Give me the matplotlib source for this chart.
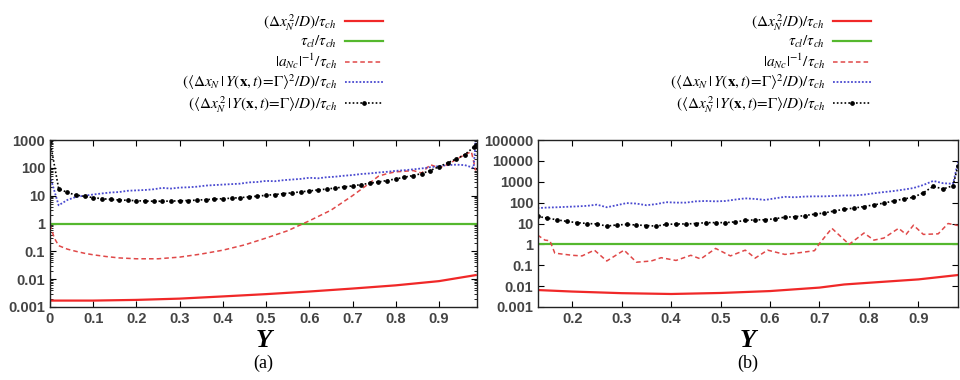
import numpy as np
import matplotlib
matplotlib.use("Agg")
import matplotlib.pyplot as plt

plt.rcParams['mathtext.fontset'] = 'stix'
plt.rcParams['font.family'] = ['Liberation Serif', 'DejaVu Serif']

#%% data, panel (a)
xa = [0.0, 0.02, 0.04, 0.06, 0.08, 0.10, 0.12, 0.14, 0.16, 0.18,
      0.20, 0.22, 0.24, 0.26, 0.28, 0.30, 0.32, 0.34, 0.36, 0.38,
      0.40, 0.42, 0.44, 0.46, 0.48, 0.50, 0.52, 0.54, 0.56, 0.58,
      0.60, 0.62, 0.64, 0.66, 0.68, 0.70, 0.72, 0.74, 0.76, 0.78,
      0.80, 0.82, 0.84, 0.86, 0.88, 0.90, 0.92, 0.94, 0.96, 0.98, 0.985]
black_a = [900, 18, 13, 10.5, 9.5, 8.5, 7.8, 7.3, 7.0, 6.8,
           6.6, 6.4, 6.3, 6.3, 6.4, 6.5, 6.7, 6.9, 7.2, 7.5,
           7.8, 8.1, 8.5, 9.0, 9.6, 10.3, 11.0, 11.8, 12.7, 13.7,
           14.8, 16.0, 17.3, 18.8, 20.5, 22.5, 25, 28, 31, 35,
           40, 46, 53, 62, 80, 110, 150, 210, 300, 550, 650]
blue_a = [50, 4.5, 7, 9, 10, 11, 12, 13, 13.5, 15,
          15.5, 16, 17, 19, 18, 19.5, 20, 21, 23, 24,
          25, 26, 27, 30, 31, 34, 33, 36, 38, 40,
          44, 42, 46, 48, 52, 55, 60, 63, 68, 72,
          78, 82, 88, 95, 105, 115, 125, 130, 125, 100, 900]
xa_rd = [0, 0.01, 0.02, 0.04, 0.06, 0.08, 0.1, 0.13, 0.16, 0.2, 0.25, 0.3,
         0.35, 0.4, 0.45, 0.5, 0.55, 0.6, 0.65, 0.7, 0.73, 0.76, 0.78, 0.8,
         0.82, 0.84, 0.86, 0.88, 0.9, 0.92, 0.94, 0.96, 0.975, 0.985]
reddash_a = [0.9, 0.3, 0.16, 0.12, 0.1, 0.085, 0.075, 0.065, 0.058, 0.054,
             0.054, 0.062, 0.08, 0.11, 0.17, 0.3, 0.55, 1.25, 3, 10, 22, 50,
             62, 72, 75, 80, 65, 130, 100, 130, 200, 300, 380, 80]
xa_rs = [0, 0.1, 0.2, 0.3, 0.4, 0.5, 0.6, 0.7, 0.8, 0.9, 0.985]
red_a = [0.0017, 0.0017, 0.0018, 0.002, 0.0024, 0.0029, 0.0036, 0.0046,
         0.006, 0.0085, 0.014]

#%% panel (b)
xb = [0.13, 0.15, 0.17, 0.19, 0.21, 0.23, 0.25, 0.27, 0.29, 0.31,
      0.33, 0.35, 0.37, 0.39, 0.41, 0.43, 0.45, 0.47, 0.49, 0.51,
      0.53, 0.55, 0.57, 0.59, 0.61, 0.63, 0.65, 0.67, 0.69, 0.71,
      0.73, 0.75, 0.77, 0.79, 0.81, 0.83, 0.85, 0.87, 0.89, 0.91,
      0.93, 0.95, 0.97, 0.98]
black_b = [22, 18, 15, 12.5, 11, 10, 9.5, 7.5, 8.5, 9,
           8.5, 8, 7.5, 9, 9.5, 9.5, 10, 11, 11, 11,
           12, 14, 15, 15, 17, 20, 21, 24, 28, 32,
           40, 48, 55, 65, 78, 95, 120, 150, 180, 300,
           600, 450, 650, 6000]
blue_b = [55, 58, 60, 63, 66, 70, 80, 60, 75, 95,
          90, 75, 85, 105, 100, 100, 115, 120, 115, 120,
          140, 160, 150, 135, 160, 190, 180, 195, 200, 200,
          210, 220, 220, 240, 280, 320, 360, 420, 500, 700,
          1100, 850, 800, 9000]
xb_rd = [0.13, 0.145, 0.155, 0.165, 0.2, 0.22, 0.245, 0.27, 0.305, 0.33,
         0.36, 0.38, 0.41, 0.44, 0.46, 0.49, 0.52, 0.55, 0.57, 0.595, 0.63,
         0.66, 0.69, 0.70, 0.725, 0.76, 0.79, 0.81, 0.83, 0.86, 0.875, 0.89,
         0.91, 0.94, 0.96, 0.98]
reddash_b = [2.8, 1.6, 1.5, 0.38, 0.3, 0.28, 0.53, 0.16, 0.53, 0.14,
             0.16, 0.23, 0.17, 0.3, 0.2, 0.64, 0.28, 0.53, 0.22, 0.53, 0.33,
             0.4, 0.5, 1.1, 5.9, 1.0, 3.5, 1.6, 2.0, 5.9, 3.0, 8.3,
             3.0, 3.2, 10, 8]
xb_rs = [0.13, 0.2, 0.3, 0.4, 0.5, 0.6, 0.7, 0.75, 0.8, 0.9, 0.98]
red_b = [0.0065, 0.0055, 0.0046, 0.0042, 0.0047, 0.0058, 0.0085, 0.012,
         0.0145, 0.021, 0.034]

labels = [r'$(\Delta x_N^{\,2}/D)/\tau_{ch}$',
          r'$\tau_{cl}/\tau_{ch}$',
          r'$|a_{Nc}|^{-1}/\tau_{ch}$',
          r'$(\langle\Delta x_N \,|\, Y(\mathbf{x},t)\!=\!\Gamma\rangle^2/D)/\tau_{ch}$',
          r'$(\langle\Delta x_N^{\,2} \,|\, Y(\mathbf{x},t)\!=\!\Gamma\rangle/D)/\tau_{ch}$']

#%% plotting
fig = plt.figure(figsize=(9.6, 3.8), dpi=100)
ax1 = fig.add_axes([50/960, 73/380, 427/960, 167/380])
ax2 = fig.add_axes([538/960, 73/380, 420/960, 167/380])

def draw(ax, xs, red, xd, rd, xg, blue, black):
    ax.plot(xs, red, color='#f02828', lw=1.6, label=labels[0])
    ax.plot([xg[0], xg[-1]], [1, 1], color='#55b82e', lw=1.6, label=labels[1])
    ax.plot(xd, rd, color='#e04848', lw=1.1, ls=(0, (3, 2)), label=labels[2])
    ax.plot(xg, blue, color='#4a4ad0', lw=1.3, ls=(0, (1, 1)), label=labels[3])
    ax.plot(xg, black, color='black', lw=1.2, ls=(0, (1, 1.3)), marker='o',
            ms=2.4, label=labels[4])
    ax.set_yscale('log')
    ax.tick_params(which='both', direction='in', top=True, right=True,
                   labelsize=10.5, labelcolor='#444444')
    ax.tick_params(which='major', length=4)
    ax.tick_params(which='minor', length=2)
    for s in ax.spines.values():
        s.set_linewidth(1.0)
        s.set_color('#222222')

draw(ax1, xa_rs, red_a, xa_rd, reddash_a, xa, blue_a, black_a)
draw(ax2, xb_rs, red_b, xb_rd, reddash_b, xb, blue_b, black_b)

ax1.set_xlim(0, 0.988)
ax1.set_ylim(0.001, 1000)
ax1.set_xticks([0, 0.1, 0.2, 0.3, 0.4, 0.5, 0.6, 0.7, 0.8, 0.9])
ax1.set_xticklabels(['0', '0.1', '0.2', '0.3', '0.4', '0.5', '0.6', '0.7', '0.8', '0.9'])
ax1.set_yticks([0.001, 0.01, 0.1, 1, 10, 100, 1000])
ax1.set_yticklabels(['0.001', '0.01', '0.1', '1', '10', '100', '1000'])

ax2.set_xlim(0.131, 0.98)
ax2.set_ylim(0.001, 100000)
ax2.set_xticks([0.2, 0.3, 0.4, 0.5, 0.6, 0.7, 0.8, 0.9])
ax2.set_xticklabels(['0.2', '0.3', '0.4', '0.5', '0.6', '0.7', '0.8', '0.9'])
ax2.set_yticks([0.001, 0.01, 0.1, 1, 10, 100, 1000, 10000, 100000])
ax2.set_yticklabels(['0.001', '0.01', '0.1', '1', '10', '100', '1000', '10000', '100000'])

for ax, tag, right in [(ax1, '(a)', 383), (ax2, '(b)', 871)]:
    for lab in ax.get_xticklabels() + ax.get_yticklabels():
        lab.set_fontfamily('Liberation Sans')
        lab.set_fontweight('bold')
    ax.text(0.5, -0.2, 'Y', transform=ax.transAxes, ha='center', va='center',
            fontsize=19, fontstyle='italic', fontweight='bold')
    ax.text(0.5, -0.335, tag, transform=ax.transAxes, ha='center', va='center',
            fontsize=13)
    ax.legend(loc='upper right', bbox_to_anchor=(right/960, 1 - 12/380),
              bbox_transform=fig.transFigure, frameon=False, markerfirst=False,
              numpoints=1, fontsize=11, handlelength=2.5, handletextpad=0.5,
              labelspacing=0.1, borderpad=0, borderaxespad=0)

plt.savefig('out.png', dpi=100)
